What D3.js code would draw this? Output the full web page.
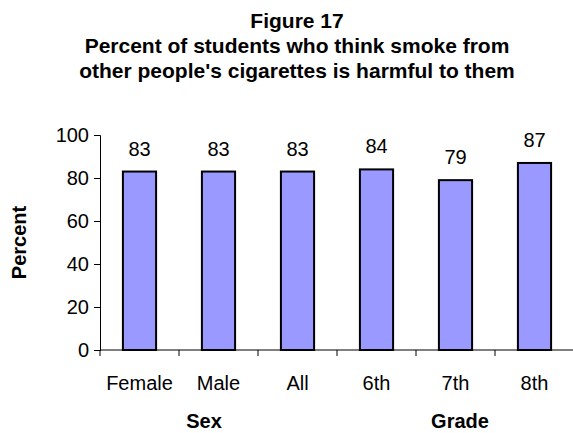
<!DOCTYPE html>
<html>
<head>
<meta charset="utf-8">
<script src="https://cdn.jsdelivr.net/npm/d3@7"></script>
<style>
  html, body { margin: 0; padding: 0; background: #fff; }
  svg { display: block; font-family: Arial, "Liberation Sans", sans-serif; }
</style>
</head>
<body>
<svg id="chart" width="573" height="433"></svg>
<script>
// Survey results: share of students who consider second-hand smoke harmful
const categories = ["Female", "Male", "All", "6th", "7th", "8th"];
const values = [83, 83, 83, 84, 79, 87];
const yTicks = [0, 20, 40, 60, 80, 100];
const groupLabels = ["Sex", "Grade"];
const titleLines = [
  "Figure 17",
  "Percent of students who think smoke from",
  "other people's cigarettes is harmful to them"
];

const FONT = 20;
const svg = d3.select("#chart");
const plot = { left: 100, right: 574, top: 135, bottom: 350 };

const x = d3.scaleBand()
  .domain(categories)
  .range([plot.left, plot.right])
  .paddingInner(0.58)
  .paddingOuter(0.29);

const y = d3.scaleLinear()
  .domain([0, 100])
  .range([plot.bottom, plot.top]);

// Title
svg.append("g")
  .selectAll("text")
  .data(titleLines)
  .join("text")
  .attr("x", 297)
  .attr("y", (d, i) => 28 + i * 25)
  .attr("text-anchor", "middle")
  .attr("font-weight", "bold")
  .attr("font-size", 21)
  .text(d => d);

// Bars
svg.append("g")
  .selectAll("rect")
  .data(values)
  .join("rect")
  .attr("x", (d, i) => x(categories[i]))
  .attr("y", d => y(d))
  .attr("width", x.bandwidth())
  .attr("height", d => y(0) - y(d))
  .attr("fill", "#9999FF")
  .attr("stroke", "#000")
  .attr("stroke-width", 2);

// Value labels
svg.append("g")
  .selectAll("text")
  .data(values)
  .join("text")
  .attr("x", (d, i) => x(categories[i]) + x.bandwidth() / 2)
  .attr("y", d => y(d) - 16)
  .attr("text-anchor", "middle")
  .attr("font-size", FONT)
  .text(d => d);

// Y axis
const yAxis = svg.append("g")
  .attr("transform", `translate(${plot.left},0)`)
  .call(d3.axisLeft(y).tickValues(yTicks).tickSize(6).tickPadding(5));
yAxis.select(".domain").attr("stroke", "#000").attr("stroke-width", 1);
yAxis.selectAll(".tick line").attr("stroke", "#000");
yAxis.selectAll(".tick text")
  .attr("font-size", FONT)
  .attr("font-family", "Arial, 'Liberation Sans', sans-serif")
  .attr("fill", "#000");

// X axis: ticks on category boundaries
const boundaries = categories.map(c => x(c) - x.step() * x.paddingInner() / 2);
const xAxisG = svg.append("g");
xAxisG.append("line")
  .attr("x1", plot.left).attr("x2", plot.right)
  .attr("y1", plot.bottom).attr("y2", plot.bottom)
  .attr("stroke", "#000");
xAxisG.selectAll("line.tick")
  .data(boundaries)
  .join("line")
  .attr("class", "tick")
  .attr("x1", d => d).attr("x2", d => d)
  .attr("y1", plot.bottom).attr("y2", plot.bottom + 6)
  .attr("stroke", "#000");
xAxisG.selectAll("text")
  .data(categories)
  .join("text")
  .attr("x", d => x(d) + x.bandwidth() / 2)
  .attr("y", 390)
  .attr("text-anchor", "middle")
  .attr("font-size", FONT)
  .text(d => d);

// Group labels
svg.append("g")
  .selectAll("text")
  .data(groupLabels)
  .join("text")
  .attr("x", (d, i) => [204, 460][i])
  .attr("y", 428)
  .attr("text-anchor", "middle")
  .attr("font-weight", "bold")
  .attr("font-size", FONT)
  .text(d => d);

// Y axis title
svg.append("text")
  .attr("transform", `translate(26,${(plot.top + plot.bottom) / 2}) rotate(-90)`)
  .attr("text-anchor", "middle")
  .attr("font-weight", "bold")
  .attr("font-size", FONT)
  .text("Percent");
</script>
</body>
</html>
